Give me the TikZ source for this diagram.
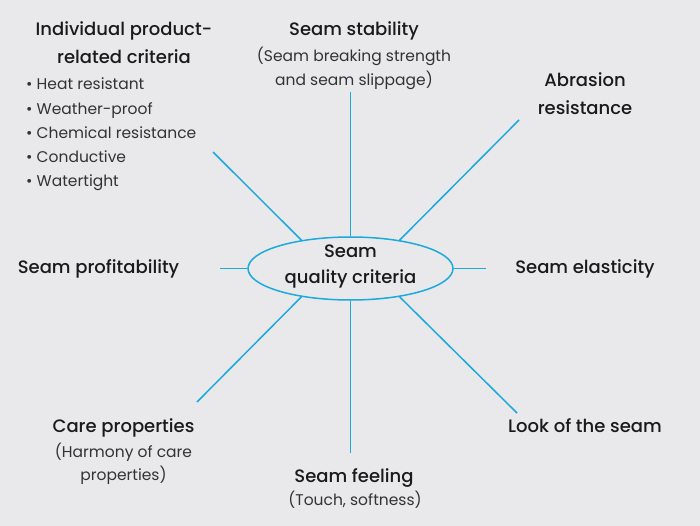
\documentclass[tikz,border=0pt]{standalone}
\usepackage{fontspec}
\setmainfont{Poppins}
\newfontfamily\medfont{Poppins Medium}
\usetikzlibrary{shapes.geometric}
\definecolor{bg}{HTML}{E9E9EB}
\definecolor{seamblue}{HTML}{1CA9DD}
\definecolor{ink}{HTML}{1A1A1A}
\definecolor{subink}{HTML}{333333}
\tikzset{
  title/.style={anchor=base, inner sep=0pt, text=ink, font=\medfont\fontsize{18}{20}\selectfont},
  sub/.style={anchor=base, inner sep=0pt, text=subink, font=\fontsize{15.5}{18}\selectfont},
  bullet/.style={anchor=base west, inner sep=0pt, text=subink, font=\fontsize{15.5}{18}\selectfont},
  spoke/.style={draw=seamblue, line width=1.5pt},
}
\begin{document}
\begin{tikzpicture}[x=1pt,y=-1pt]
\fill[bg] (0,0) rectangle (700,526);
\useasboundingbox (0,0) rectangle (700,526);
% centre
\node[ellipse, draw=seamblue, line width=1.5pt, minimum width=205pt, minimum height=63pt, inner sep=0pt] (c) at (350.5,268.5) {};
\node[title] (c1) at (350.5,258) {Seam};
\node[title] (c2) at (350.5,283) {quality criteria};
% free ends
\coordinate (tl) at (213,152);
\coordinate (tp) at (350.5,92);
\coordinate (tr) at (519,120);
\coordinate (lf) at (220,268.5);
\coordinate (rt) at (486,268.5);
\coordinate (bl) at (197,402);
\coordinate (bt) at (350.5,453);
\coordinate (br) at (517,413);
\draw[spoke] (c.150) -- (tl);
\draw[spoke] (c.north) -- (tp);
\draw[spoke] (c.30) -- (tr);
\draw[spoke] (c.west) -- (lf);
\draw[spoke] (c.east) -- (rt);
\draw[spoke] (c.210) -- (bl);
\draw[spoke] (c.south) -- (bt);
\draw[spoke] (c.330) -- (br);
% top left
\node[title] (ip1) at (124,36) {Individual product-};
\node[title] (ip2) at (124,64) {related criteria};
\node[bullet] (b1) at (26,90) {• Heat resistant};
\node[bullet] (b2) at (26,115) {• Weather-proof};
\node[bullet] (b3) at (26,139) {• Chemical resistance};
\node[bullet] (b4) at (26,163) {• Conductive};
\node[bullet] (b5) at (26,187) {• Watertight};
% top
\node[title] (ss1) at (354,36) {Seam stability};
\node[sub] (ss2) at (354,62) {(Seam breaking strength};
\node[sub] (ss3) at (354,86) {and seam slippage)};
% top right
\node[title] (ab1) at (585,87) {Abrasion};
\node[title] (ab2) at (585,115) {resistance};
% left/right
\node[title] (pr) at (98.5,273) {Seam profitability};
\node[title] (el) at (585,273) {Seam elasticity};
% bottom left
\node[title] (cp1) at (123.5,432) {Care properties};
\node[sub] (cp2) at (123.5,457) {(Harmony of care};
\node[sub] (cp3) at (123.5,480) {properties)};
% bottom
\node[title] (sf1) at (354,482) {Seam feeling};
\node[sub] (sf2) at (355,505) {(Touch, softness)};
% bottom right
\node[title] (lk) at (585,432) {Look of the seam};
\end{tikzpicture}
\end{document}
